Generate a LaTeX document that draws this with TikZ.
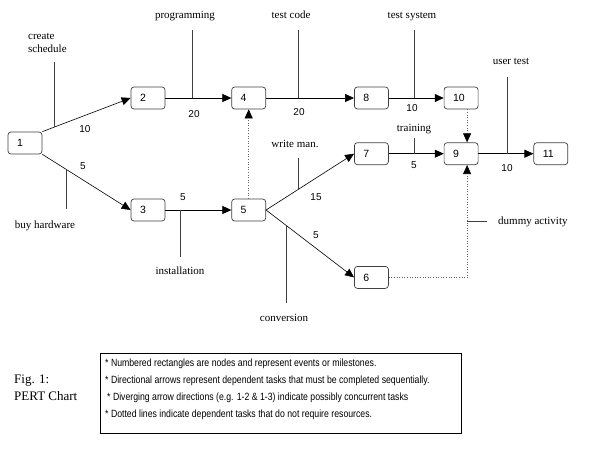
\documentclass[tikz,border=0pt]{standalone}
\usepackage{fontspec}
\setmainfont{Liberation Serif}
\setsansfont{Liberation Sans}
\newfontfamily\notefont[FakeStretch=0.83]{Liberation Sans}
\usepackage{tikz}
\usetikzlibrary{arrows.meta,positioning}

\begin{document}
\begin{tikzpicture}[
  x=1pt, y=-1pt,
  event/.style={draw=black!75, rounded corners=3pt, line width=0.7pt,
                minimum height=22pt, text width=16pt, inner xsep=9pt, inner ysep=0pt,
                align=left, font=\sffamily\fontsize{10.5}{12}\selectfont},
  task/.style={font=\fontsize{11}{13}\selectfont, inner sep=0pt,
               text height=7.5pt, text depth=2.5pt},
  dur/.style={font=\sffamily\fontsize{10}{12}\selectfont, inner sep=0pt},
  arr/.style={-{Triangle[length=9pt,width=8pt,color=black]}, line width=0.6pt},
  dummy/.style={arr, dotted, draw=black!60, line width=0.7pt},
  lead/.style={draw=black!75, line width=1pt, shorten >=#1},
  lead/.default=9pt
]
\useasboundingbox (0,0) rectangle (592,463);

% events
\node[event] (n1) at (25,143) {1};
\node[event] (n2) at (148,98) {2};
\node[event, right=66pt of n2] (n4) {4};
\node[event, right=88pt of n4] (n8) {8};
\node[event, right=55pt of n8] (n10) {10};
\node[event] (n3) at (148,210) {3};
\node[event, right=66pt of n3] (n5) {5};
\node[event, below=33pt of n8] (n7) {7};
\node[event, right=55pt of n7] (n9) {9};
\node[event, right=55pt of n9] (n11) {11};
\node[event, below=101pt of n7] (n6) {6};

% tasks
\draw[arr] (n1.north east) -- coordinate[pos=0.136] (t12) (n2.west);
\draw[arr] (n1.south east) -- coordinate[pos=0.27] (t13) (n3.west);
\draw[arr] (n2) -- coordinate[pos=0.41] (t24) (n4);
\draw[arr] (n4) -- coordinate[pos=0.364] (t48) (n8);
\draw[arr] (n8) -- coordinate[pos=0.47] (t810) (n10);
\draw[arr] (n3) -- coordinate[pos=0.227] (t35) (n5);
\draw[arr] (n5.east) -- coordinate[pos=0.364] (t57) (n7.west);
\draw[arr] (n5.east) -- coordinate[pos=0.227] (t56) (n6.west);
\draw[arr] (n7) -- coordinate[pos=0.47] (t79) (n9);
\draw[arr] (n9) -- coordinate[pos=0.53] (t911) (n11);

% dummy activities
\draw[dummy] (n5) -- (n4);
\draw[dummy] ([xshift=6pt]n10.south) -- ([xshift=6pt]n9.north);
\draw[dummy] (n6.east) -| coordinate[pos=0.75] (tdum) ([xshift=6pt]n9.south);

% task names
\node[font=\fontsize{11}{13}\selectfont, inner sep=0pt, align=left, anchor=north west]
  (lcs) at (28,33) {create\\schedule};
\node[task] (lbh) at (45,226) {buy hardware};
\node[task] (lprog) at (185,16) {programming};
\node[task] (ltc) at (291,16) {test code};
\node[task] (lts) at (412,16) {test system};
\node[task] (lut) at (511,62) {user test};
\node[task] (ltr) at (414,129) {training};
\node[task] (lwm) at (295,145) {write man.};
\node[task] (linst) at (180,272) {installation};
\node[task] (lconv) at (284,319) {conversion};
\node[task, anchor=west] (ldum) at (498,222) {dummy activity};

\draw[lead] (t12) -- (t12 |- lcs.south);
\draw[lead=12pt] (t13) -- (t13 |- lbh.north);
\draw[lead] (t24) -- (t24 |- lprog.south);
\draw[lead] (t48) -- (t48 |- ltc.south);
\draw[lead] (t810) -- (t810 |- lts.south);
\draw[lead=10pt] (t911) -- (t911 |- lut.south);
\draw[lead=4pt] (t79) -- (t79 |- ltr.south);
\draw[lead=8pt] (t57) -- (t57 |- lwm.south);
\draw[lead=10pt] (t35) -- (t35 |- linst.north);
\draw[lead=11pt] (t56) -- (t56 |- lconv.north);
\draw[lead=11pt] (tdum) -- (tdum -| ldum.west);

% durations
\node[dur] (d12) at (85,129) {10};
\node[dur] (d13) at (83,166) {5};
\node[dur] (d24) at (194,114) {20};
\node[dur] (d35) at (183,197) {5};
\node[dur] (d48) at (299,112) {20};
\node[dur] (d810) at (412,108) {10};
\node[dur] (d79) at (414,165) {5};
\node[dur] (d911) at (507,168) {10};
\node[dur] (d57) at (316,197) {15};
\node[dur] (d56) at (316,235) {5};

% caption and legend
\node[font=\fontsize{13}{17}\selectfont, inner sep=0pt, align=left, anchor=west]
  (cap) at (14,388) {Fig. 1:\\PERT Chart};
\node[draw, line width=0.7pt, minimum width=361pt, minimum height=80pt,
      inner sep=0pt, anchor=north west] (legend) at (100,353) {};
\node[font=\notefont\fontsize{10.5}{17}\selectfont, inner sep=0pt, align=left,
      below right=6pt and 5pt of legend.north west] (notes) {%
  * Numbered rectangles are nodes and represent events or milestones.\\
  * Directional arrows represent dependent tasks that must be completed sequentially.\\
  \hspace{2pt}* Diverging arrow directions (e.g. 1-2 \& 1-3) indicate possibly concurrent tasks\\
  * Dotted lines indicate dependent tasks that do not require resources.};
\end{tikzpicture}
\end{document}
